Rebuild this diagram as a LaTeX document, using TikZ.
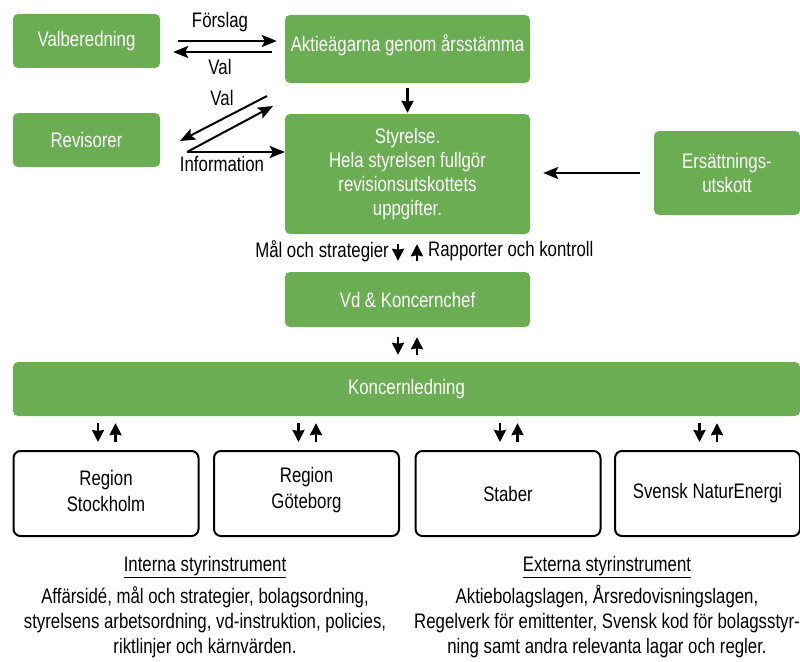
\documentclass[tikz,border=0pt]{standalone}
\usepackage{fontspec}
\setmainfont{Liberation Sans}[FakeStretch=0.8]
\usetikzlibrary{arrows.meta}
\definecolor{kgreen}{RGB}{107,173,83}
\newcommand{\fnt}{\fontsize{21}{24}\selectfont}
\begin{document}
\begin{tikzpicture}[x=1pt,y=-1pt,
  gbox/.style={fill=kgreen, rounded corners=5pt, text=white, align=center, inner sep=0pt, font=\fnt},
  wbox/.style={draw=black, line width=2pt, rounded corners=7pt, align=center, fill=white, inner sep=0pt, font=\fontsize{21}{26}\selectfont, minimum width=185pt, minimum height=85pt},
  arr/.style={-{Stealth[length=15pt,width=12pt,inset=3pt]}, line width=2pt},
  sarr/.style={-{Stealth[length=12pt,width=12pt,inset=1pt]}, line width=2.4pt},
  lbl/.style={font=\fnt, inner sep=0pt, align=center}]
\useasboundingbox (0,0) rectangle (800,661);
% green boxes
\node[gbox, minimum width=147pt, minimum height=54pt] (valb) at (86.5,41) {Valberedning};
\node[gbox, minimum width=245pt, minimum height=68pt] (aktie) at (407.5,49) {};
\node[lbl, text=white] (aktietxt) at (407.5,45) {Aktieägarna genom årsstämma};
\node[gbox, minimum width=147pt, minimum height=54pt] (rev) at (86.5,140) {Revisorer};
\node[gbox, minimum width=245pt, minimum height=120pt] (styr) at (407.5,174) {Styrelse.\\Hela styrelsen fullgör\\revisionsutskottets\\uppgifter.};
\node[gbox, minimum width=146pt, minimum height=84pt] (ers) at (727,173) {Ersättnings-\\utskott};
\node[gbox, minimum width=245pt, minimum height=55pt] (vd) at (407.5,299.5) {Vd \& Koncernchef};
\node[gbox, minimum width=787pt, minimum height=54pt] (kl) at (406.5,389) {Koncernledning};
% white boxes
\node[wbox] (r1) at (106,493.5) {};
\node[wbox] (r2) at (306.5,493.5) {};
\node[wbox] (r3) at (508,493.5) {Staber};
\node[wbox] (r4) at (707.5,493.5) {Svensk NaturEnergi};
\node[lbl, font=\fontsize{21}{26}\selectfont] (r1t) at (106,490.5) {Region\\Stockholm};
\node[lbl, font=\fontsize{21}{26}\selectfont] (r2t) at (306.5,490.5) {Region\\Göteborg};
% top arrows
\draw[arr, shorten <=18pt, shorten >=8pt] (valb.east) -- (valb.east -| aktie.west);
\draw[arr, shorten <=13pt, shorten >=13pt] ([yshift=-11pt]valb.east -| aktie.west) -- ([yshift=-11pt]valb.east);
\node[lbl] (forslag) at (220,22) {Förslag};
\node[lbl] (val1) at (220,67) {Val};
\coordinate (d1s) at (267,96);
\coordinate (d1e) at (180,141);
\coordinate (d2s) at (187,152);
\coordinate (d2e) at (273,106);
\draw[arr] (d1s) -- (d1e);
\draw[arr] (d2s) -- (d2e);
\draw[arr] (d2s) -- (d2s -| styr.west);
\node[lbl] (val2) at (222,98) {Val};
\node[lbl] (info) at (222,164) {Information};
\draw[sarr, shorten <=5pt, shorten >=1pt] (aktie.south) -- (styr.north);
\draw[arr, shorten <=14pt, shorten >=13pt] (ers.west) -- (ers.west -| styr.east);
% styrelse - vd
\draw[sarr, shorten <=10pt, shorten >=11pt] ([xshift=-9.5pt]styr.south) -- ([xshift=-9.5pt]styr.south |- vd.north);
\draw[sarr, shorten <=11pt, shorten >=10pt] ([xshift=9.5pt]styr.south |- vd.north) -- ([xshift=9.5pt]styr.south);
\node[lbl, anchor=east] (mal) at (389,251) {Mål och strategier};
\node[lbl, anchor=west] (rapp) at (428,251) {Rapporter och kontroll};
% vd - koncernledning
\draw[sarr, shorten <=10pt, shorten >=7pt] ([xshift=-9.5pt]vd.south) -- ([xshift=-9.5pt]vd.south |- kl.north);
\draw[sarr, shorten <=7pt, shorten >=10pt] ([xshift=9.5pt]vd.south |- kl.north) -- ([xshift=9.5pt]vd.south);
% koncernledning - regions
\foreach \r in {r1,r2,r3,r4}{
  \draw[sarr, shorten <=7pt, shorten >=8pt] ([xshift=-8pt]\r.north |- kl.south) -- ([xshift=-8pt]\r.north);
  \draw[sarr, shorten <=8pt, shorten >=7pt] ([xshift=9.5pt]\r.north) -- ([xshift=9.5pt]\r.north |- kl.south);
}
% bottom texts
\node[lbl] (inthead) at (205,567) {\underline{Interna styrinstrument}};
\node[lbl, font=\fontsize{21}{25}\selectfont] (inttxt) at (205,622) {Affärsidé, mål och strategier, bolagsordning,\\styrelsens arbetsordning, vd-instruktion, policies,\\riktlinjer och kärnvärden.};
\node[lbl] (exthead) at (607,567) {\underline{Externa styrinstrument}};
\node[lbl, font=\fontsize{21}{25}\selectfont] (exttxt) at (607,622) {Aktiebolagslagen, Årsredovisningslagen,\\Regelverk för emittenter, Svensk kod för bolagsstyr-\\ning samt andra relevanta lagar och regler.};
\end{tikzpicture}
\end{document}
